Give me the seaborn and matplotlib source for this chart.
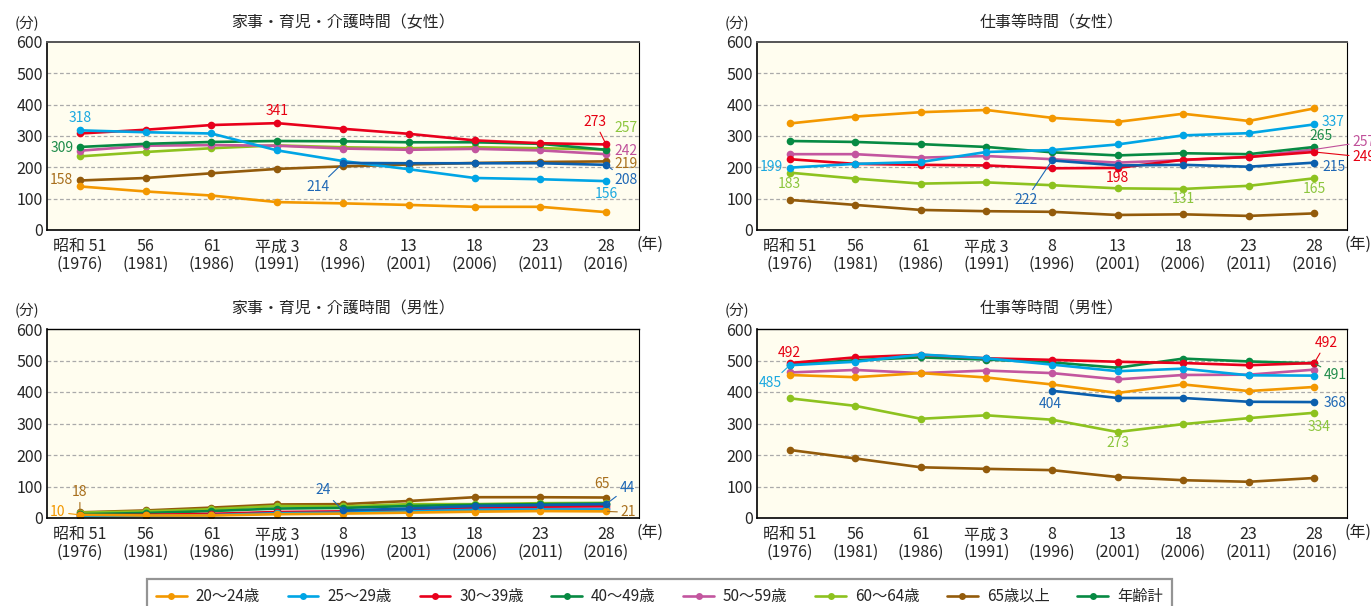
import numpy as np
import pandas as pd
import seaborn as sns
import matplotlib.pyplot as plt
from matplotlib.lines import Line2D

sns.set_style('white')
plt.rcParams['font.family'] = ['Noto Sans CJK JP', 'DejaVu Sans']

# x軸（調査年）
xlabels = ['昭和 51\n(1976)', '56\n(1981)', '61\n(1986)', '平成 3\n(1991)', '8\n(1996)',
           '13\n(2001)', '18\n(2006)', '23\n(2011)', '28\n(2016)']
groups = ['20～24歳', '25～29歳', '30～39歳', '40～49歳', '50～59歳', '60～64歳', '65歳以上', '年齢計']
nan = np.nan

# 家事・育児・介護時間（女性）  順番は groups と同じ
f_house = [
    [139, 123, 110, 89, 85, 80, 74, 74, 57],
    [318, 312, 308, 254, 220, 194, 166, 162, 156],
    [308, 320, 335, 341, 323, 307, 286, 277, 273],
    [265, 275, 281, 284, 283, 280, 280, 275, 256],
    [253, 269, 271, 269, 260, 256, 259, 254, 242],
    [235, 249, 261, 270, 264, 261, 264, 261, 257],
    [158, 166, 181, 195, 203, 209, 214, 217, 219],
    [nan, nan, nan, nan, 214, 213, 213, 213, 208],
]
# 仕事等時間（女性）
f_work = [
    [340, 362, 376, 383, 358, 345, 371, 348, 388],
    [199, 211, 217, 249, 255, 273, 302, 309, 337],
    [226, 211, 208, 206, 197, 198, 224, 233, 249],
    [284, 281, 274, 265, 248, 238, 245, 242, 265],
    [242, 242, 231, 236, 226, 215, 223, 233, 257],
    [183, 164, 148, 152, 143, 133, 131, 141, 165],
    [96, 80, 64, 60, 58, 48, 50, 45, 53],
    [nan, nan, nan, nan, 222, 206, 208, 202, 215],
]
# 家事・育児・介護時間（男性）
m_house = [
    [10, 8, 8, 12, 14, 17, 20, 22, 21],
    [6, 7, 9, 15, 17, 21, 26, 27, 27],
    [8, 10, 13, 19, 21, 27, 33, 36, 39],
    [12, 16, 22, 30, 32, 38, 42, 44, 46],
    [7, 9, 12, 17, 19, 24, 29, 31, 33],
    [17, 21, 28, 38, 37, 44, 44, 47, 48],
    [18, 24, 33, 43, 44, 54, 66, 66, 65],
    [nan, nan, nan, nan, 24, 30, 38, 41, 44],
]
# 仕事等時間（男性）
m_work = [
    [454, 447, 460, 446, 424, 397, 424, 403, 416],
    [485, 496, 519, 507, 487, 466, 474, 453, 452],
    [492, 510, 518, 507, 502, 496, 492, 485, 492],
    [487, 501, 510, 503, 494, 477, 506, 497, 491],
    [462, 470, 460, 468, 460, 440, 454, 455, 471],
    [380, 356, 315, 326, 312, 273, 298, 317, 334],
    [216, 189, 161, 156, 152, 130, 120, 115, 127],
    [nan, nan, nan, nan, 404, 381, 381, 369, 368],
]

line_colors = ['#f39800', '#00a5e5', '#e8001c', '#078a43', '#c3569f', '#8dc21f', '#935b0b', '#0b5fad']
legend_colors = ['#f39800', '#00a5e5', '#e8001c', '#078a43', '#c3569f', '#8dc21f', '#935b0b', '#078a43']
palette = dict(zip(groups, line_colors))
draw_order = ['65歳以上', '60～64歳', '50～59歳', '40～49歳', '30～39歳', '25～29歳', '20～24歳', '年齢計']

lab = {'or': '#f39800', 'lb': '#1aa8e0', 'rd': '#e60012', 'gr': '#1e8c4a',
       'pk': '#c0509a', 'lg': '#8cc63e', 'br': '#a86f1c', 'bl': '#1f68b5'}


def draw(ax, rows, title, top_row):
    recs = []
    for g, vals in zip(groups, rows):
        for i, v in enumerate(vals):
            if not np.isnan(v):
                recs.append({'x': i, 'val': v, 'grp': g})
    df = pd.DataFrame(recs)
    sns.lineplot(data=df, x='x', y='val', hue='grp', hue_order=draw_order, palette=palette,
                 marker='o', markersize=5.5, markeredgewidth=0, linewidth=1.9,
                 errorbar=None, legend=False, ax=ax)
    ax.set_facecolor('#fffdef')
    ax.set_xlim(-0.5, 8.5)
    ax.set_ylim(0, 600)
    ax.set_yticks(range(0, 601, 100))
    ax.set_xticks(range(9))
    ax.set_xticklabels(xlabels, fontsize=11.5, linespacing=1.05)
    ax.tick_params(axis='y', length=0, pad=3, labelsize=11.5)
    ax.tick_params(axis='x', direction='out', length=5, width=1, color='black', pad=1)
    ax.set_xlabel('')
    ax.set_ylabel('')
    for y in range(100, 600, 100):
        ax.axhline(y, color='#aaaaaa', lw=0.9, ls=(0, (3, 2)), zorder=0)
    for s in ['left', 'bottom']:
        ax.spines[s].set_color('black')
        ax.spines[s].set_linewidth(1.2)
    ax.spines['right'].set_color('black')
    ax.spines['right'].set_linewidth(0.8)
    if top_row:
        ax.spines['top'].set_color('#555555')
        ax.spines['top'].set_linestyle((0, (2, 1)))
        ax.spines['top'].set_linewidth(1.4)
    else:
        ax.spines['top'].set_color('black')
        ax.spines['top'].set_linewidth(1.0)
    ax.text(0.5, 1.105, title, transform=ax.transAxes, ha='center', va='center', fontsize=11.5)
    ax.text(-0.034, 1.095, '(分)', transform=ax.transAxes, ha='center', va='center', fontsize=10.5)
    ax.text(0.995, -0.075, '(年)', transform=ax.transAxes, ha='left', va='center', fontsize=11.5)


def note(ax, text, color, xt, yt, xy=None, ha='center'):
    if xy is None:
        ax.text(xt, yt, text, color=lab[color], ha=ha, va='center', fontsize=10)
    else:
        ax.annotate(text, xy=xy, xytext=(xt, yt), color=lab[color], ha=ha, va='center',
                    fontsize=10, annotation_clip=False,
                    arrowprops=dict(arrowstyle='-', color=lab[color], lw=0.8, shrinkA=0, shrinkB=1))


fig = plt.figure(figsize=(13.71, 6.06), dpi=100)
W, H = 1371, 606
ax1 = fig.add_axes([47 / W, 1 - 230 / H, 592 / W, 188 / H])
ax2 = fig.add_axes([757 / W, 1 - 230 / H, 590 / W, 188 / H])
ax3 = fig.add_axes([47 / W, 1 - 518 / H, 592 / W, 189 / H])
ax4 = fig.add_axes([757 / W, 1 - 518 / H, 590 / W, 189 / H])

draw(ax1, f_house, '家事・育児・介護時間（女性）', True)
draw(ax2, f_work, '仕事等時間（女性）', True)
draw(ax3, m_house, '家事・育児・介護時間（男性）', False)
draw(ax4, m_work, '仕事等時間（男性）', False)

# 数値ラベル
note(ax1, '318', 'lb', 0, 356)
note(ax1, '341', 'rd', 3, 380)
note(ax1, '309', 'gr', -0.1, 262, ha='right')
note(ax1, '158', 'br', -0.1, 160, ha='right')
note(ax1, '214', 'bl', 3.62, 137, xy=(4, 214))
note(ax1, '273', 'rd', 7.83, 345, xy=(8, 273))
note(ax1, '257', 'lg', 8.3, 325)
note(ax1, '242', 'pk', 8.3, 253)
note(ax1, '219', 'br', 8.3, 211)
note(ax1, '208', 'bl', 8.3, 160, xy=(8, 208))
note(ax1, '156', 'lb', 8.01, 115)

note(ax2, '199', 'lb', -0.1, 200, ha='right')
note(ax2, '183', 'lg', 0, 147)
note(ax2, '222', 'bl', 3.6, 96, xy=(4, 222))
note(ax2, '198', 'rd', 5, 166)
note(ax2, '131', 'lg', 6, 99)
note(ax2, '165', 'lg', 8, 131)
note(ax2, '215', 'bl', 8.12, 201, ha='left')
note(ax2, '337', 'lb', 8.12, 345, ha='left')
note(ax2, '265', 'gr', 8.1, 300)
note(ax2, '257', 'pk', 8.58, 281, xy=(8, 257), ha='left')
note(ax2, '249', 'rd', 8.58, 233, xy=(8, 249), ha='left')

note(ax3, '18', 'br', 0, 82, xy=(0, 18))
note(ax3, '10', 'or', -0.22, 18, xy=(0, 10), ha='right')
note(ax3, '24', 'bl', 3.7, 88, xy=(4, 24))
note(ax3, '65', 'br', 7.94, 107)
note(ax3, '44', 'bl', 8.32, 95, xy=(8, 44))
note(ax3, '21', 'br', 8.22, 18, xy=(8, 21), ha='left')

note(ax4, '492', 'rd', 0, 524)
note(ax4, '485', 'lb', -0.29, 429, xy=(0, 485))
note(ax4, '404', 'bl', 3.97, 362)
note(ax4, '273', 'lg', 5, 238)
note(ax4, '492', 'rd', 8.18, 556, xy=(8, 492))
note(ax4, '491', 'gr', 8.15, 455, xy=(8, 491), ha='left')
note(ax4, '368', 'bl', 8.15, 365, ha='left')
note(ax4, '334', 'lg', 8.08, 290)

handles = [Line2D([], [], color=c, marker='o', markersize=5, markeredgewidth=0, lw=1.9)
           for c in legend_colors]
leg = fig.legend(handles, groups, loc='upper left', ncol=8, mode='expand',
                 bbox_to_anchor=(147 / W, 1 - 579 / H, 1025 / W, 0), borderaxespad=0,
                 fontsize=11, frameon=True, fancybox=False, edgecolor='#7a7a7a',
                 borderpad=0.6, handlelength=2.0, handletextpad=0.6)
leg.get_frame().set_linewidth(1.6)

fig.savefig('out.png', dpi=100, facecolor='white')
